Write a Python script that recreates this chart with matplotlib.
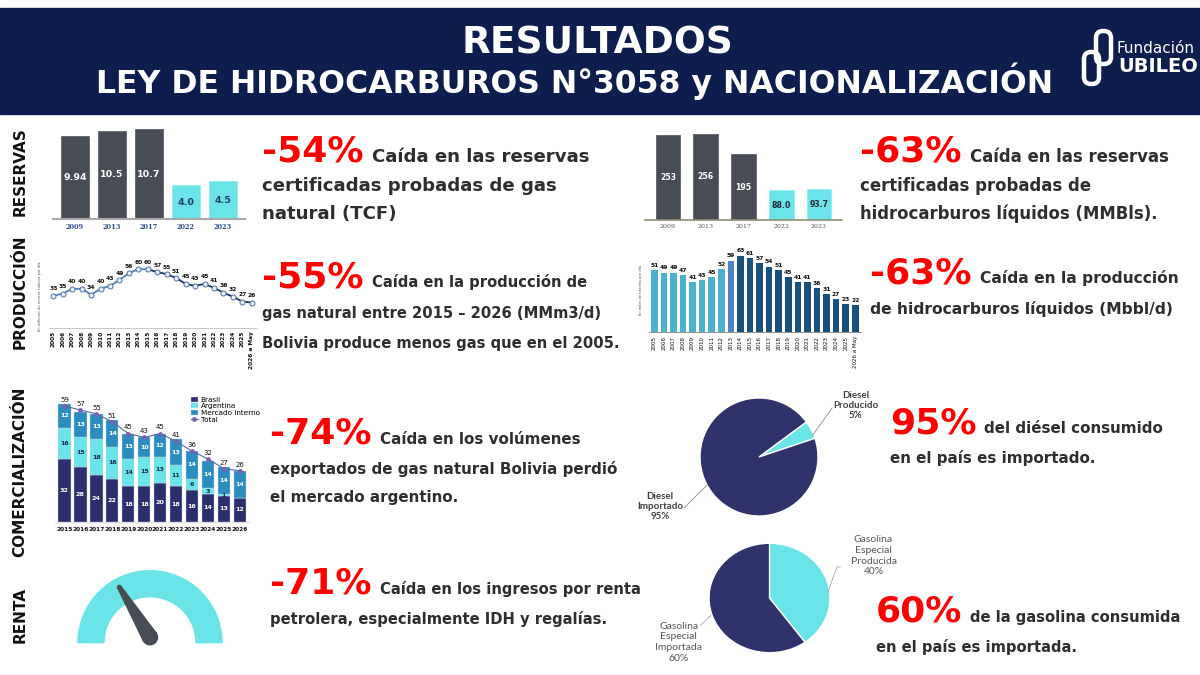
import matplotlib
matplotlib.use('Agg')
import matplotlib.pyplot as plt
from matplotlib.patches import Rectangle, Wedge, Circle, Polygon, FancyBboxPatch
import numpy as np

plt.rcParams['font.family'] = ['DejaVu Sans']

# ---------------- DATA ----------------
res_years = ['2009', '2013', '2017', '2022', '2023']
res_gas_tcf = [9.94, 10.5, 10.7, 4.0, 4.5]
res_gas_labels = ['9.94', '10.5', '10.7', '4.0', '4.5']
res_liq_mmbbl = [253, 256, 195, 88.0, 93.7]
res_liq_labels = ['253', '256', '195', '88.0', '93.7']

prod_years = ['2005', '2006', '2007', '2008', '2009', '2010', '2011', '2012', '2013',
              '2014', '2015', '2016', '2017', '2018', '2019', '2020', '2021', '2022',
              '2023', '2024', '2025', '2026 a May']
prod_gas = [33, 35, 40, 40, 34, 40, 43, 49, 56, 60, 60, 57, 55, 51, 45, 43, 45, 41, 36, 32, 27, 26]
prod_liq = [51, 49, 49, 47, 41, 43, 45, 52, 59, 63, 61, 57, 54, 51, 45, 41, 41, 36, 31, 27, 23, 22]

com_years = ['2015', '2016', '2017', '2018', '2019', '2020', '2021', '2022', '2023', '2024', '2025', '2026']
com_brasil = [32, 28, 24, 22, 18, 18, 20, 18, 16, 14, 13, 12]
com_argentina = [16, 15, 18, 16, 14, 15, 13, 11, 6, 3, 1, 0]
com_interno = [12, 13, 13, 14, 13, 10, 12, 13, 14, 14, 14, 14]
com_total = [59, 57, 55, 51, 45, 43, 45, 41, 36, 32, 27, 26]
com_series = ['Brasil', 'Argentina', 'Mercado Interno', 'Total']

diesel_labels = ['Diesel\nProducido\n5%', 'Diesel\nImportado\n95%']
diesel_share = [5, 95]
gasolina_labels = ['Gasolina\nEspecial\nProducida\n40%', 'Gasolina\nEspecial\nImportada\n60%']
gasolina_share = [40, 60]

renta_gauge_value = 0.325   # needle position (fraction of the half dial, from left)

# ---------------- STYLE ----------------
W, H = 1200, 675
NAVY = '#0d1d4d'
DARK = '#474c55'
CYAN = '#6ae4e9'
PIE_NAVY = '#30336b'
RED = '#ff0000'
TXT = '#2e2e2e'

fig = plt.figure(figsize=(12, 6.75), dpi=100)


def px_axes(x0, y0, x1, y1):
    ax = fig.add_axes([x0 / W, 1 - y1 / H, (x1 - x0) / W, (y1 - y0) / H])
    ax.set_facecolor('none')
    return ax


bg = fig.add_axes([0, 0, 1, 1])
bg.set_xlim(0, W)
bg.set_ylim(H, 0)
bg.axis('off')
renderer = fig.canvas.get_renderer()

# Header
bg.add_patch(Rectangle((0, 8), W, 106, color=NAVY, zorder=0))
bg.text(597, 54, 'RESULTADOS', color='white', fontsize=27, fontweight='bold', ha='center', va='baseline')
bg.text(575, 93, 'LEY DE HIDROCARBUROS N°3058 y NACIONALIZACIÓN', color='white', fontsize=22.7,
        fontweight='bold', ha='center', va='baseline')
# logo
bg.add_patch(FancyBboxPatch((1084, 52), 15, 32, boxstyle='round,pad=0,rounding_size=7',
                            fill=False, ec='white', lw=3.2))
bg.add_patch(FancyBboxPatch((1096, 31), 15, 33, boxstyle='round,pad=0,rounding_size=7',
                            fill=False, ec='white', lw=3.2))
bg.text(1117, 53, 'Fundación', color='white', fontsize=11, ha='left', va='baseline')
bg.text(1118, 72, 'UBILEO', color='white', fontsize=14, fontweight='bold', ha='left', va='baseline')

# Side labels
for lab, yc in [('RESERVAS', 172), ('PRODUCCIÓN', 292), ('COMERCIALIZACIÓN', 472), ('RENTA', 615)]:
    bg.text(20, yc, lab, rotation=90, fontsize=11, fontweight='bold', color='#111111',
            ha='center', va='center')

# Text blocks: x, baselines, big number, first line (text, right edge), other lines [(text, right edge)]
blocks = [
    (262, [162, 191, 219], '-54%', ('Caída en las reservas', 591),
     [('certificadas probadas de gas', 562), ('natural (TCF)', 392)]),
    (860, [162, 191, 219], '-63%', ('Caída en las reservas', 1152),
     [('certificadas probadas de', 1112), ('hidrocarburos líquidos (MMBls).', 1150)]),
    (262, [287, 318, 348], '-55%', ('Caída en la producción de', 594),
     [('gas natural entre 2015 – 2026 (MMm3/d)', 604), ('Bolivia produce menos gas que en el 2005.', 596)]),
    (870, [283, 314], '-63%', ('Caída en la producción', 1176),
     [('de hidrocarburos líquidos (Mbbl/d)', 1172)]),
    (270, [444, 474, 502], '-74%', ('Caída en los volúmenes', 578),
     [('exportados de gas natural Bolivia perdió', 608), ('el mercado argentino.', 462)]),
    (890, [433, 463], '95%', ('del diésel consumido', 1160),
     [('en el país es importado.', 1098)]),
    (270, [594, 624], '-71%', ('Caída en los ingresos por renta', 630),
     [('petrolera, especialmente IDH y regalías.', 612)]),
    (876, [622, 652], '60%', ('de la gasolina consumida', 1172),
     [('en el país es importada.', 1082)]),
]
BASE_FS = 13
for x0, ys, big, first, rest in blocks:
    t = bg.text(x0, ys[0], big, color=RED, fontsize=26, fontweight='bold', ha='left', va='baseline')
    bb = t.get_window_extent(renderer=renderer)
    items = [(x0 + bb.width + 8, ys[0], first[0], first[1])]
    items += [(x0, yy, line, right) for yy, (line, right) in zip(ys[1:], rest)]
    texts, sizes = [], []
    for xx, yy, s, right in items:
        tt = bg.text(xx, yy, s, color=TXT, fontsize=BASE_FS, fontweight='bold', ha='left', va='baseline')
        w = tt.get_window_extent(renderer=renderer).width
        texts.append(tt)
        sizes.append(BASE_FS * (right - xx) / w)
    fs = float(np.mean(sizes))
    for tt in texts:
        tt.set_fontsize(fs)

# ---------------- Chart 1: gas reserves ----------------
ax1 = px_axes(52.8, 118.2, 245.2, 219)
x = np.arange(len(res_years))
cols = [DARK, DARK, DARK, CYAN, CYAN]
ax1.bar(x, res_gas_tcf, width=0.75, color=cols, edgecolor=['#5d626a'] * 3 + ['#8ef0f3'] * 2, linewidth=0.6)
for xi, v, lab, c in zip(x, res_gas_tcf, res_gas_labels, cols):
    ax1.text(xi, v / 2, lab, ha='center', va='center', fontsize=6.8, fontweight='bold',
             color='white' if c == DARK else '#1f3b6e')
ax1.set_xlim(-0.6, 4.6)
ax1.set_ylim(0, 12)
ax1.set_xticks(x)
ax1.set_xticklabels(res_years, fontsize=4.8, fontweight='bold', color='#2f4f8f', family='DejaVu Serif')
ax1.tick_params(length=0, pad=3)
ax1.set_yticks([])
for s in ['top', 'left', 'right']:
    ax1.spines[s].set_visible(False)
ax1.spines['bottom'].set_color('#a8a8a8')
ax1.spines['bottom'].set_linewidth(1.5)

# ---------------- Chart 2: liquid reserves ----------------
ax2 = px_axes(645.35, 119.2, 841.65, 220)
ax2.bar(x, res_liq_mmbbl, width=0.66, color=cols, edgecolor=['#5d626a'] * 3 + ['#8ef0f3'] * 2, linewidth=0.6)
for xi, v, lab, c in zip(x, res_liq_mmbbl, res_liq_labels, cols):
    ax2.text(xi, v / 2, lab, ha='center', va='center', fontsize=5.6, fontweight='bold',
             color='white' if c == DARK else '#1e2a3a')
ax2.set_xlim(-0.6, 4.6)
ax2.set_ylim(0, 300)
ax2.set_xticks(x)
ax2.set_xticklabels(res_years, fontsize=4.5, color='#555555', family='DejaVu Serif')
ax2.tick_params(length=0, pad=3)
ax2.set_yticks([])
for s in ['top', 'left', 'right']:
    ax2.spines[s].set_visible(False)
ax2.spines['bottom'].set_color('#8c8f72')
ax2.spines['bottom'].set_linewidth(1.2)

# ---------------- Chart 3: gas production ----------------
ax3 = px_axes(48.6, 254.5, 256.5, 328)
xp = np.arange(len(prod_years))
ax3.plot(xp[:11], prod_gas[:11], color='#4f81bd', lw=1.3, zorder=2)
ax3.plot(xp[10:], prod_gas[10:], color='#1f3864', lw=1.3, zorder=2)
ax3.plot(xp, prod_gas, ls='none', marker='o', ms=3.6, mfc='#e8eef8', mec='#4f6fa8', mew=0.7, zorder=3)
for i, v in enumerate(prod_gas):
    ax3.annotate(str(v), (i, v), xytext=(0, 3.2), textcoords='offset points', ha='center',
                 va='bottom', fontsize=4.3, fontweight='bold', color='#111111')
ax3.set_xlim(-0.5, 21.5)
ax3.set_ylim(0, 75)
ax3.set_xticks(xp)
ax3.set_xticklabels(prod_years, rotation=90, fontsize=4.2, fontweight='bold', color='#111111')
ax3.tick_params(length=0, pad=2)
ax3.set_yticks([])
for s in ['top', 'left', 'right']:
    ax3.spines[s].set_visible(False)
ax3.spines['bottom'].set_color('#bfbfbf')
ax3.spines['bottom'].set_linewidth(0.6)
bg.text(40, 296, 'En millones de metros cúbicos por día', rotation=90, fontsize=2.6,
        color='#555555', ha='center', va='center')

# ---------------- Chart 4: liquid production ----------------
ax4 = px_axes(648.6, 241.2, 861, 331.7)
liq_cols = ['#4bb1cc'] * 8 + ['#4f84c4'] + ['#17507d'] * 13
ax4.bar(xp, prod_liq, width=0.68, color=liq_cols)
for i, v in enumerate(prod_liq):
    ax4.annotate(str(v), (i, v), xytext=(0, 1.6), textcoords='offset points', ha='center',
                 va='bottom', fontsize=4.3, fontweight='bold', color='#111111')
ax4.set_xlim(-0.6, 21.6)
ax4.set_ylim(0, 75)
ax4.set_xticks(xp)
ax4.set_xticklabels(prod_years, rotation=90, fontsize=4, color='#111111')
ax4.tick_params(length=0, pad=3)
ax4.set_yticks([])
for s in ['top', 'left', 'right']:
    ax4.spines[s].set_visible(False)
ax4.spines['bottom'].set_color('#7f7f7f')
ax4.spines['bottom'].set_linewidth(0.6)
bg.text(641, 290, 'En miles de barriles por día', rotation=90, fontsize=2.6,
        color='#555555', ha='center', va='center')

# ---------------- Chart 5: commercialization ----------------
ax5 = px_axes(54.9, 400.2, 249.5, 521.7)
xc = np.arange(len(com_years))
C_BR, C_AR, C_MI = '#2d2e6e', CYAN, '#2b8cc0'
b1 = ax5.bar(xc, com_brasil, width=0.77, color=C_BR, edgecolor='#d0d6e6', linewidth=0.3)
bot2 = np.array(com_brasil)
b2 = ax5.bar(xc, com_argentina, width=0.77, bottom=bot2, color=C_AR, edgecolor='#d0d6e6', linewidth=0.3)
bot3 = bot2 + np.array(com_argentina)
b3 = ax5.bar(xc, com_interno, width=0.77, bottom=bot3, color=C_MI, edgecolor='#d0d6e6', linewidth=0.3)
for i in xc:
    ax5.text(i, com_brasil[i] / 2, str(com_brasil[i]), ha='center', va='center', fontsize=4.6,
             fontweight='bold', color='white')
    if com_argentina[i] > 0:
        ax5.text(i, bot2[i] + com_argentina[i] / 2, str(com_argentina[i]), ha='center', va='center',
                 fontsize=4.6, fontweight='bold', color='#1e2a4a')
    ax5.text(i, bot3[i] + com_interno[i] / 2, str(com_interno[i]), ha='center', va='center',
             fontsize=4.6, fontweight='bold', color='white')
ln, = ax5.plot(xc, com_total, color='#5668a8', lw=0.8, marker='o', ms=2.4, mfc='#7b5fb0',
               mec='#7b5fb0', zorder=4)
for i, v in enumerate(com_total):
    ax5.annotate(str(v), (i, v), xytext=(0, 2.2), textcoords='offset points', ha='center',
                 va='bottom', fontsize=5, color='#111111', annotation_clip=False)
ax5.set_xlim(-0.6, 11.6)
ax5.set_ylim(0, 62)
ax5.set_xticks(xc)
ax5.set_xticklabels(com_years, fontsize=4.2, fontweight='bold', color='#111111')
ax5.tick_params(length=0, pad=4)
ax5.set_yticks([])
for s in ['top', 'left', 'right']:
    ax5.spines[s].set_visible(False)
ax5.spines['bottom'].set_color('#d0d0d0')
ax5.spines['bottom'].set_linewidth(0.6)
ax5.legend([b1, b2, b3, ln], com_series, loc='upper left', bbox_to_anchor=(187 / W, 1 - 393 / H),
           bbox_transform=fig.transFigure, fontsize=5.2, frameon=False, handlelength=1.0,
           handleheight=0.7, labelspacing=0.1, borderpad=0, handletextpad=0.4)

# ---------------- Pie: diesel ----------------
axd = px_axes(685.25, 383.25, 832.75, 530.75)
axd.pie(diesel_share, colors=[CYAN, PIE_NAVY], startangle=18.5, counterclock=True,
        wedgeprops=dict(edgecolor='white', linewidth=1.0))
axd.set_xlim(-1.25, 1.25)
axd.set_ylim(-1.25, 1.25)
axd.plot([0.91, 1.24], [0.37, 0.83], color='#8a8a8a', lw=0.6, clip_on=False)
axd.plot([-0.876, -1.27], [-0.475, -0.86], color='#8a8a8a', lw=0.6, clip_on=False)
axd.text(1.64, 0.88, diesel_labels[0], ha='center', va='center', fontsize=7, fontweight='bold',
         color='#404040', family='Lato', linespacing=1.15)
axd.text(-1.68, -0.84, diesel_labels[1], ha='center', va='center', fontsize=7, fontweight='bold',
         color='#404040', family='Lato', linespacing=1.15)

# ---------------- Pie: gasolina ----------------
axg = px_axes(693.9, 529.6, 845.1, 666.4)
axg.pie(gasolina_share, colors=[CYAN, PIE_NAVY], startangle=90, counterclock=False,
        wedgeprops=dict(edgecolor='white', linewidth=1.0))
axg.set_aspect('auto')
axg.set_xlim(-1.25, 1.25)
axg.set_ylim(-1.25, 1.25)
axg.plot([0.965, 1.114, 1.17], [0.11, 0.567, 0.567], color='#a6a6a6', lw=0.6, clip_on=False)
axg.plot([-0.97, -1.145], [-0.32, -0.5], color='#a6a6a6', lw=0.6, clip_on=False)
axg.text(1.72, 0.77, gasolina_labels[0], ha='center', va='center', fontsize=7.5,
         color='#595959', family='Lato', linespacing=1.25)
axg.text(-1.50, -0.81, gasolina_labels[1], ha='center', va='center', fontsize=7.5,
         color='#595959', family='Lato', linespacing=1.25)

# ---------------- Gauge ----------------
axr = px_axes(70, 560, 230, 650)
axr.set_xlim(-80, 80)
axr.set_ylim(-7.3, 82.7)
axr.axis('off')
axr.add_patch(Wedge((0, 0), 72, 0, 180, width=26, color=CYAN))
ang = np.deg2rad(180 - renta_gauge_value * 180)
base = np.array([0, 5.4])
u = np.array([np.cos(ang), np.sin(ang)])
nrm = np.array([-u[1], u[0]])
L = 58.7
tip = base + L * u
axr.add_patch(Polygon([base + 7.5 * nrm, tip + 1.8 * nrm, tip - 1.8 * nrm, base - 7.5 * nrm],
                      closed=True, color=DARK))
axr.add_patch(Circle(tuple(tip), 1.8, color=DARK))
axr.add_patch(Circle(tuple(base), 7.5, color=DARK))

fig.savefig('out.png', dpi=100, facecolor='white')
